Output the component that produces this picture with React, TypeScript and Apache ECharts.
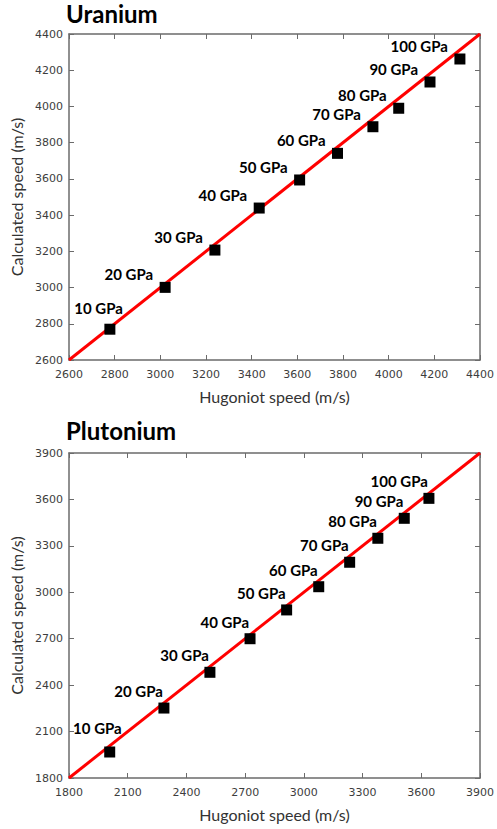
import React, { useEffect, useRef } from "react";
import * as echarts from "echarts";

// ---- Data ----
const pressures = [10, 20, 30, 40, 50, 60, 70, 80, 90, 100];

const uraniumHugoniot = [2779, 3021, 3239, 3433, 3610, 3776, 3931, 4044, 4181, 4312];
const uraniumCalculated = [2770, 3001, 3207, 3439, 3594, 3741, 3888, 3990, 4135, 4262];
const uraniumRange = [2600, 4400];
const uraniumStep = 200;

const plutoniumHugoniot = [2008, 2285, 2520, 2725, 2912, 3076, 3234, 3378, 3513, 3639];
const plutoniumCalculated = [1968, 2252, 2483, 2700, 2886, 3036, 3194, 3349, 3478, 3607];
const plutoniumRange = [1800, 3900];
const plutoniumStep = 300;

const titles = ["Uranium", "Plutonium"];
const xName = "Hugoniot speed (m/s)";
const yName = "Calculated speed (m/s)";

const AXIS_COLOR = "#6b6b6b";
const TICK_LABEL = { color: "#3d3d3d", fontFamily: "DejaVu Sans", fontSize: 11 };

function axisPair(range: number[], step: number, gridIndex: number, dim: "x" | "y") {
  const common = {
    gridIndex,
    type: "value" as const,
    min: range[0],
    max: range[1],
    interval: step,
    splitLine: { show: false },
    axisLine: { show: true, onZero: false, lineStyle: { color: AXIS_COLOR, width: 1.5 } },
    axisTick: { show: true, inside: true, length: 5, lineStyle: { color: AXIS_COLOR, width: 1 } },
  };
  const main = {
    ...common,
    position: dim === "x" ? "bottom" : "left",
    axisLabel: {
      ...TICK_LABEL,
      margin: dim === "x" ? 9 : 6,
      formatter: (v: number) => String(v),
    },
    name: dim === "x" ? xName : yName,
    nameLocation: "middle",
    nameGap: dim === "x" ? 28 : 44,
    nameTextStyle: { fontFamily: "Lato", fontSize: 16, color: "#333" },
  };
  const mirror = {
    ...common,
    position: dim === "x" ? "top" : "right",
    axisLabel: { show: false },
  };
  return [main, mirror];
}

function seriesFor(
  hug: number[],
  calc: number[],
  range: number[],
  axisBase: number,
  labelShift: number[],
  firstShift: number[]
) {
  return [
    {
      type: "line",
      xAxisIndex: axisBase,
      yAxisIndex: axisBase,
      data: [
        [range[0], range[0]],
        [range[1], range[1]],
      ],
      symbol: "none",
      lineStyle: { color: "#ff0000", width: 3 },
      silent: true,
      z: 2,
    },
    {
      type: "scatter",
      xAxisIndex: axisBase,
      yAxisIndex: axisBase,
      symbol: "rect",
      symbolSize: 11,
      itemStyle: { color: "#000", opacity: 1 },
      z: 3,
      data: hug.map((h, i) => ({
        value: [h, calc[i]],
        label: {
          show: true,
          position: "inside",
          align: "right",
          verticalAlign: "middle",
          offset: i === 0 ? firstShift : labelShift,
          formatter: `${pressures[i]} GPa`,
          fontFamily: "Lato",
          fontWeight: "bold",
          fontSize: 15,
          color: "#000",
          opacity: 1,
          textBorderWidth: 0,
        },
      })),
    },
  ];
}

export default function App() {
  const ref = useRef<HTMLDivElement>(null);
  useEffect(() => {
    if (!ref.current) return;
    const chart = echarts.init(ref.current, null, { renderer: "svg" });
    const [ux, uxm] = axisPair(uraniumRange, uraniumStep, 0, "x");
    const [uy, uym] = axisPair(uraniumRange, uraniumStep, 0, "y");
    const [px, pxm] = axisPair(plutoniumRange, plutoniumStep, 1, "x");
    const [py, pym] = axisPair(plutoniumRange, plutoniumStep, 1, "y");
    chart.setOption({
      animation: false,
      backgroundColor: "#fff",
      title: [
        {
          text: titles[0],
          left: 66,
          top: 1,
          textStyle: { fontFamily: "Lato", fontWeight: "bold", fontSize: 24, color: "#000" },
          padding: 0,
        },
        {
          text: titles[1],
          left: 66,
          top: 418,
          textStyle: { fontFamily: "Lato", fontWeight: "bold", fontSize: 24, color: "#000" },
          padding: 0,
        },
      ],
      grid: [
        { left: 69, right: 15, top: 34, height: 326 },
        { left: 69, right: 15, top: 453, height: 325 },
      ],
      xAxis: [ux, px, uxm, pxm],
      yAxis: [uy, py, uym, pym],
      series: [
        ...seriesFor(uraniumHugoniot, uraniumCalculated, uraniumRange, 0, [-12, -13], [13, -21]),
        ...seriesFor(plutoniumHugoniot, plutoniumCalculated, plutoniumRange, 1, [-1, -17], [12, -24]),
      ],
    });
    return () => chart.dispose();
  }, []);
  return (
    <div
      ref={ref}
      style={{ position: "fixed", left: 0, top: 0, width: 497, height: 829 }}
    />
  );
}
